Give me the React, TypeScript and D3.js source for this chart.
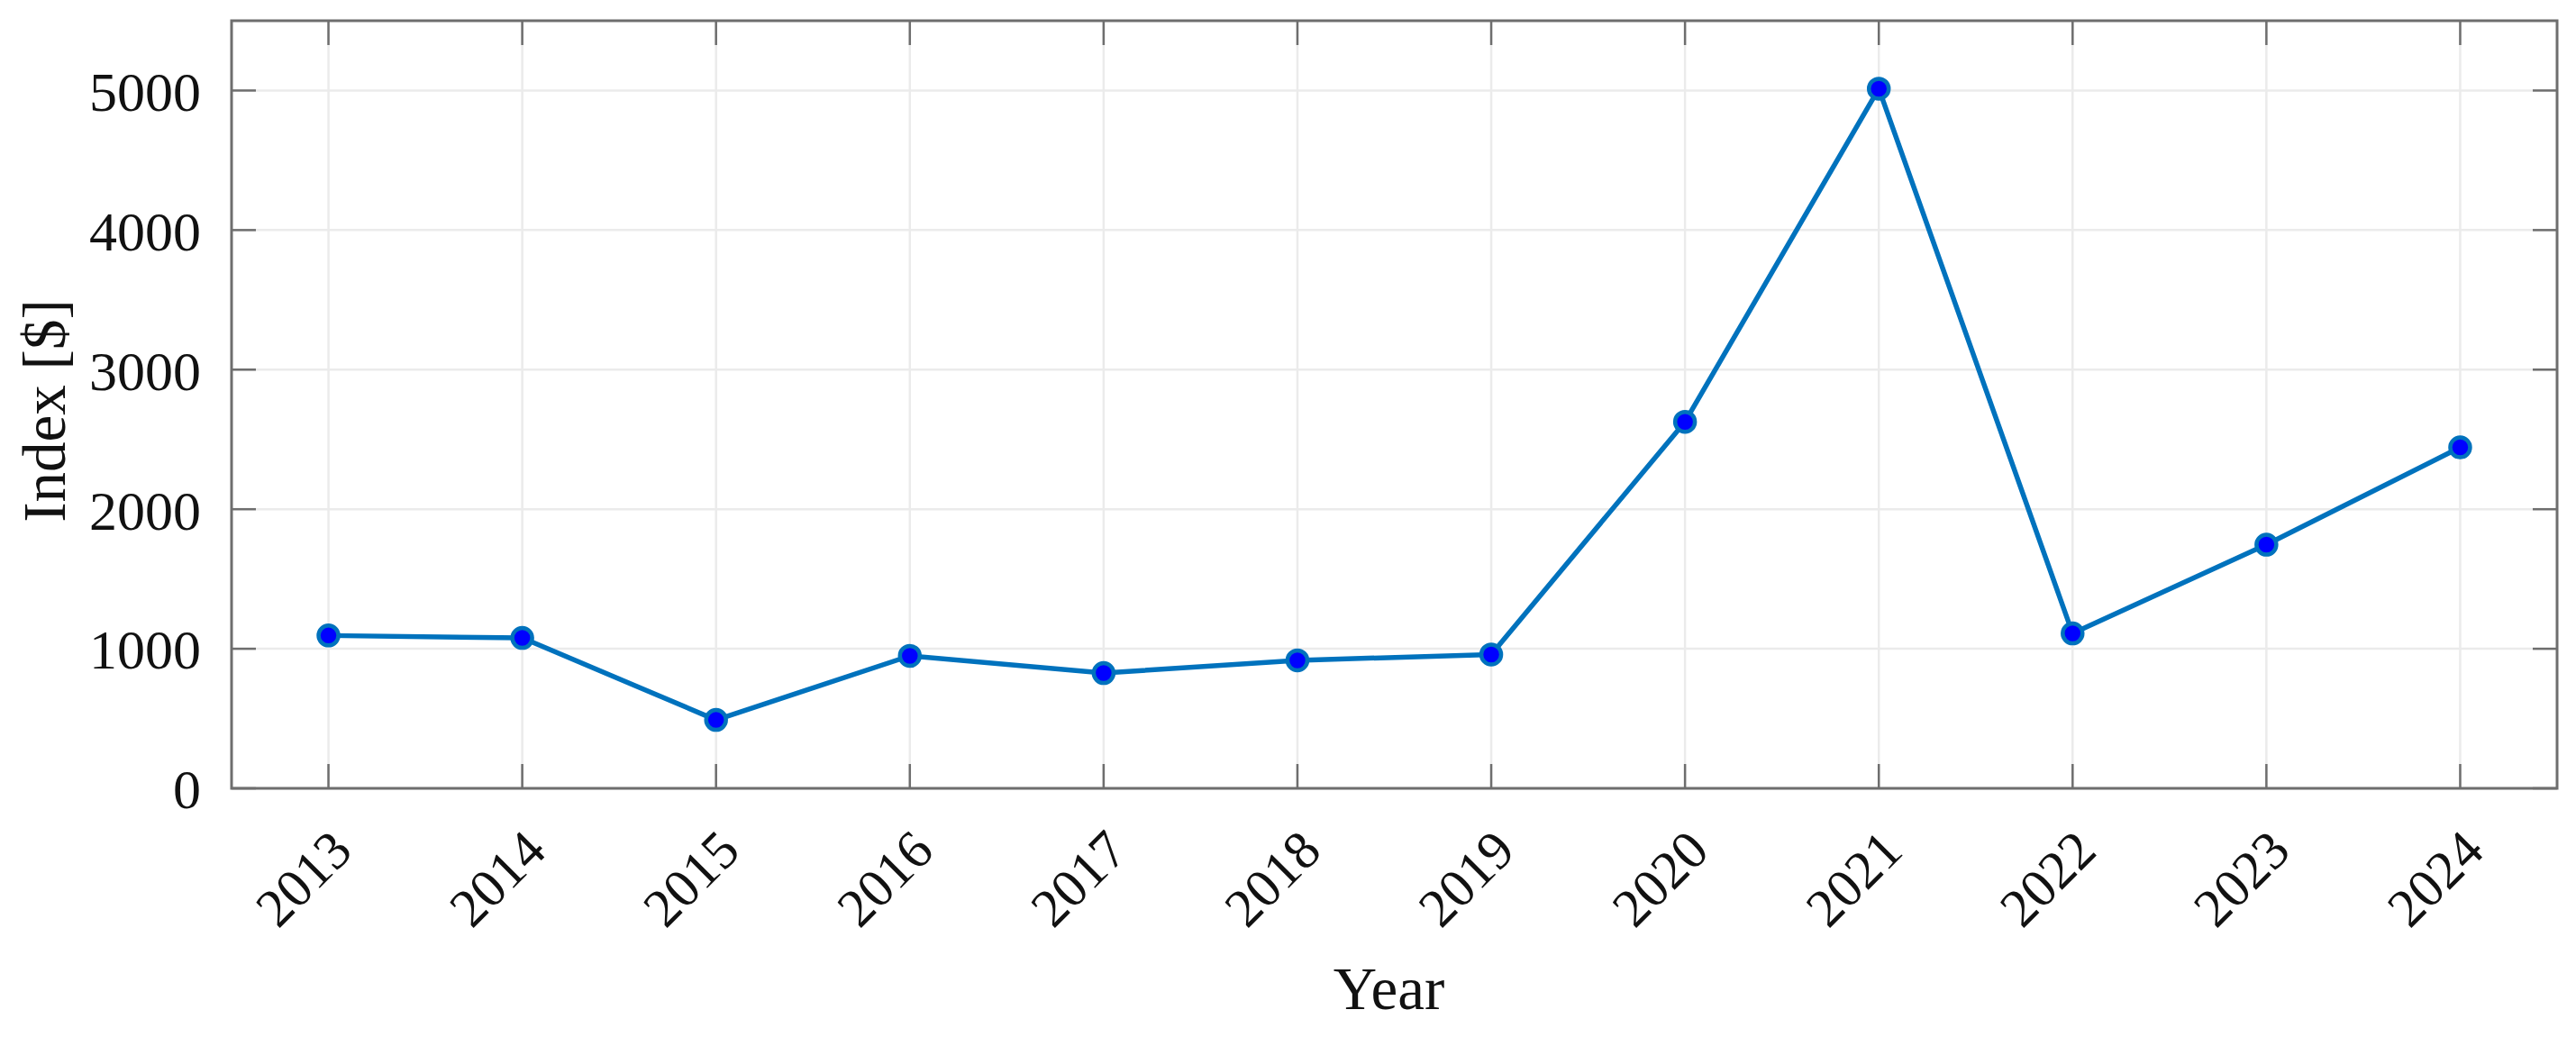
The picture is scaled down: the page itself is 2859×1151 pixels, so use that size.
import React from "react";
import * as d3 from "d3";

const years = [2013, 2014, 2015, 2016, 2017, 2018, 2019, 2020, 2021, 2022, 2023, 2024];
const indexValues = [1095, 1078, 490, 949, 826, 917, 959, 2626, 5013, 1110, 1746, 2443];
const yTicks = [0, 1000, 2000, 3000, 4000, 5000];
const xLabel = "Year";
const yLabel = "Index [$]";

const W = 2859;
const H = 1151;
const M = { left: 257, right: 2838, top: 23, bottom: 875 };
const FONT = "'Liberation Serif', 'Times New Roman', serif";

export default function App() {
  const x = d3.scaleLinear().domain([2012.5, 2024.5]).range([M.left, M.right]);
  const y = d3.scaleLinear().domain([0, 5500]).range([M.bottom, M.top]);
  const pts = years.map((yr, i) => [yr, indexValues[i]] as [number, number]);
  const line = d3.line<[number, number]>().x((d) => x(d[0])).y((d) => y(d[1]));
  const tickLen = 27;
  const axisColor = "#6e6e6e";

  return (
    <svg width={W} height={H} style={{ position: "absolute", left: 0, top: 0, background: "#fff" }}>
      <rect x={0} y={0} width={W} height={H} fill="#fff" />
      {/* grid */}
      {years.map((yr) => (
        <line key={"gx" + yr} x1={x(yr)} x2={x(yr)} y1={M.top} y2={M.bottom} stroke="#ebebeb" strokeWidth={2.5} />
      ))}
      {yTicks.map((t) => (
        <line key={"gy" + t} x1={M.left} x2={M.right} y1={y(t)} y2={y(t)} stroke="#ebebeb" strokeWidth={2.5} />
      ))}
      {/* ticks */}
      {years.map((yr) => (
        <g key={"tx" + yr}>
          <line x1={x(yr)} x2={x(yr)} y1={M.bottom} y2={M.bottom - tickLen} stroke={axisColor} strokeWidth={2.5} />
          <line x1={x(yr)} x2={x(yr)} y1={M.top} y2={M.top + tickLen} stroke={axisColor} strokeWidth={2.5} />
        </g>
      ))}
      {yTicks.map((t) => (
        <g key={"ty" + t}>
          <line x1={M.left} x2={M.left + tickLen} y1={y(t)} y2={y(t)} stroke={axisColor} strokeWidth={2.5} />
          <line x1={M.right} x2={M.right - tickLen} y1={y(t)} y2={y(t)} stroke={axisColor} strokeWidth={2.5} />
        </g>
      ))}
      {/* box */}
      <rect x={M.left} y={M.top} width={M.right - M.left} height={M.bottom - M.top} fill="none" stroke={axisColor} strokeWidth={3} />
      {/* series */}
      <path d={line(pts) || ""} fill="none" stroke="#0072BD" strokeWidth={5.5} strokeLinejoin="round" />
      {pts.map((p, i) => (
        <circle key={"p" + i} cx={x(p[0])} cy={y(p[1])} r={11} fill="#0000FF" stroke="#0072BD" strokeWidth={4.5} />
      ))}
      {/* y tick labels */}
      {yTicks.map((t) => (
        <text key={"yl" + t} x={223} y={y(t)} dy="0.36em" textAnchor="end" fontFamily={FONT} fontSize={62} fill="#111">
          {t}
        </text>
      ))}
      {/* x tick labels */}
      {years.map((yr) => (
        <text
          key={"xl" + yr}
          transform={`translate(${x(yr) + 29},${947}) rotate(-45)`}
          textAnchor="end"
          fontFamily={FONT}
          fontSize={60}
          fill="#111"
        >
          {yr}
        </text>
      ))}
      {/* axis labels */}
      <text x={(M.left + M.right) / 2 - 6} y={1120} textAnchor="middle" fontFamily={FONT} fontSize={67} fill="#111">
        {xLabel}
      </text>
      <text transform={`translate(72,${(M.top + M.bottom) / 2 + 7}) rotate(-90)`} textAnchor="middle" fontFamily={FONT} fontSize={67} fill="#111">
        {yLabel}
      </text>
    </svg>
  );
}
